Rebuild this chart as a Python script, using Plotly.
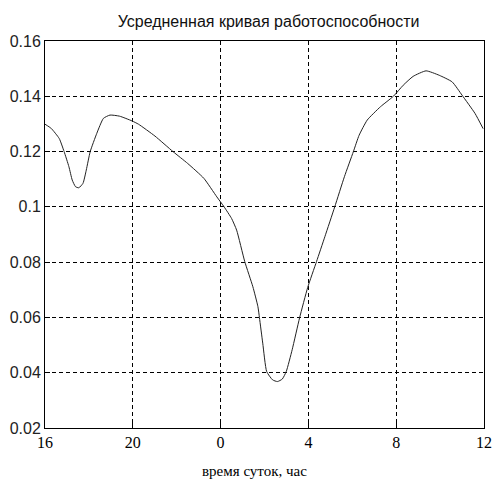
import plotly.graph_objects as go

# Hours counted from midnight of day 1 (16 -> 36 means 16:00 to 12:00 next day)
hours = [16.0, 16.28, 16.65, 16.87, 17.09, 17.24, 17.39, 17.54, 17.73, 17.88, 18.06, 18.36,
         18.66, 18.96, 19.40, 19.96, 20.26, 21.01, 21.83, 22.50, 23.24, 23.83, 24.16, 24.50,
         24.73, 25.10, 25.47, 25.70, 25.77, 25.92, 26.10, 26.37, 26.59, 26.81, 26.99, 27.26,
         27.60, 27.97, 28.37, 28.75, 29.20, 29.64, 30.05, 30.31, 30.68, 31.28, 31.87, 32.32,
         32.77, 33.36, 33.96, 34.55, 35.0, 35.59, 35.96]
values = [0.1299, 0.1284, 0.1247, 0.1200, 0.1145, 0.1097, 0.1073, 0.1069, 0.1085, 0.1133, 0.1200, 0.1266,
          0.1320, 0.1332, 0.1328, 0.1311, 0.1299, 0.1256, 0.1200, 0.1157, 0.1103, 0.1036, 0.1000, 0.0958,
          0.0916, 0.0802, 0.0711, 0.0639, 0.0599, 0.0507, 0.0404, 0.0374, 0.0368, 0.0377, 0.0404, 0.0483,
          0.0599, 0.0709, 0.0802, 0.0892, 0.1000, 0.1109, 0.1200, 0.1259, 0.1314, 0.1362, 0.1400, 0.1440,
          0.1472, 0.1492, 0.1476, 0.1452, 0.1404, 0.1338, 0.1283]

x_tick_vals = [16, 20, 24, 28, 32, 36]
x_tick_text = ["16", "20", "0", "4", "8", "12"]
y_tick_vals = [0.02, 0.04, 0.06, 0.08, 0.10, 0.12, 0.14, 0.16]
y_tick_text = ["0.02", "0.04", "0.06", "0.08", "0.1", "0.12", "0.14", "0.16"]

fig = go.Figure()
fig.add_trace(go.Scatter(x=hours, y=values, mode="lines",
                         line=dict(color="#222222", width=1, shape="spline", smoothing=0.5),
                         showlegend=False, hoverinfo="skip"))

fig.update_layout(
    width=502, height=480,
    margin=dict(l=44.5, r=9.5, t=40.7, b=51.7),
    paper_bgcolor="white", plot_bgcolor="white",
    title=dict(text="Усредненная кривая работоспособности", x=0.535, xanchor="center",
               y=0.956, yanchor="middle",
               font=dict(family="Liberation Sans, Arial", size=16, color="#111111")),
    xaxis=dict(range=[16, 36], tickmode="array", tickvals=x_tick_vals, ticktext=x_tick_text,
               showgrid=True, gridcolor="black", griddash="4px,3px", gridwidth=1,
               showline=True, linecolor="black", linewidth=1, mirror=True,
               ticks="inside", ticklen=5, tickcolor="black", zeroline=False,
               tickfont=dict(family="Liberation Serif, Times New Roman", size=16, color="black")),
    yaxis=dict(range=[0.02, 0.16], tickmode="array", tickvals=y_tick_vals, ticktext=y_tick_text,
               showgrid=True, gridcolor="black", griddash="4px,3px", gridwidth=1,
               showline=True, linecolor="black", linewidth=1, mirror=True,
               ticks="inside", ticklen=5, tickcolor="black", zeroline=False,
               tickfont=dict(family="Liberation Sans, Arial", size=16, color="#222222")),
    annotations=[dict(text="время суток, час", xref="paper", yref="paper",
                      x=0.477, y=-0.110, xanchor="center", yanchor="middle", showarrow=False,
                      font=dict(family="Liberation Serif, Times New Roman", size=15, color="black"))],
)

fig.write_html("out.html")
